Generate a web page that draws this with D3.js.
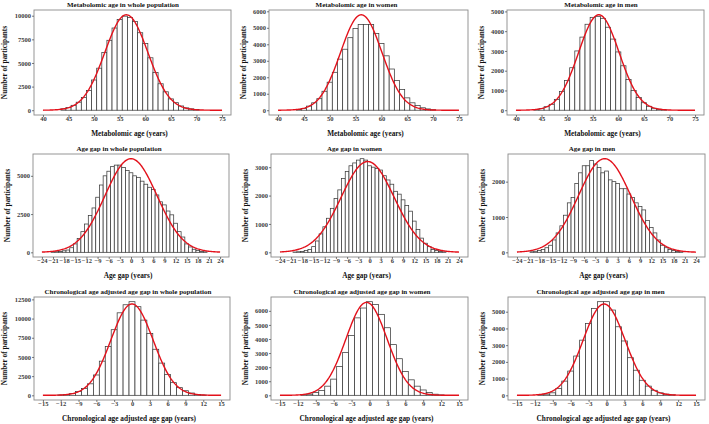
<!DOCTYPE html>
<html><head><meta charset="utf-8">
<script src="https://cdn.jsdelivr.net/npm/d3@7"></script>
<style>
body{margin:0;background:#fff}
svg{display:block}
text{font-family:"Liberation Serif","Times New Roman",serif}
</style>
</head><body>
<svg id="chart" width="709" height="424"></svg>
<script>
// ---------------- DATA ----------------
const panelTitles = [
  "Metabolomic age in whole population", "Metabolomic age in women", "Metabolomic age in men",
  "Age gap in whole population", "Age gap in women", "Age gap in men",
  "Chronological age adjusted age gap in whole population", "Chronological age adjusted age gap in women", "Chronological age adjusted age gap in men"
];
const xAxisTitles = ["Metabolomic age (years)", "Age gap (years)", "Chronological age adjusted age gap (years)"];
const yAxisTitle = "Number of participants";

// histogram bins (width 1 year), first bin centre + counts
const metabWholeStart = 44;
const metabWholeCounts = [150,280,520,850,1350,2100,3200,4450,6100,7400,8700,9600,9950,9800,9400,8200,7050,5550,4000,2800,1950,1200,800,450,250,150,70];
const metabWomenStart = 44;
const metabWomenCounts = [40,100,250,450,700,1150,1700,2300,3100,3700,4400,4950,5200,5200,5200,4650,4050,3300,2500,1800,1250,750,450,280,150,80,30];
const metabMenStart = 44;
const metabMenCounts = [20,80,180,300,550,950,1500,2150,3000,3700,4350,4700,4750,4650,4200,3600,2950,2250,1550,1000,650,380,200,100,50,20];

const gapWholeStart = -21;
const gapWholeCounts = [20,40,60,100,150,300,550,900,1350,1850,2400,2900,3600,4400,5000,5300,5600,5700,5700,5550,5350,5200,5000,4900,4650,4450,4250,4100,3750,3300,3100,2700,2450,1900,1350,1000,550,350,200,120,60,30];
const gapWomenStart = -20;
const gapWomenCounts = [10,20,30,60,100,200,400,650,900,1200,1550,1900,2200,2600,2850,3050,3150,3250,3300,3250,3050,3000,2950,2900,2700,2550,2400,2150,2050,1850,1650,1450,1100,800,500,320,200,100,60,30,15];
const gapMenStart = -20;
const gapMenCounts = [15,30,50,80,130,200,350,550,750,1050,1400,1550,1950,2250,2450,2450,2600,2500,2400,2250,2300,2050,2000,1950,1800,1800,1650,1550,1400,1300,1200,900,700,550,350,200,130,80,50,25,10];

const adjWholeStart = -12;
const adjWholeCounts = [50,100,250,500,900,1500,2650,4450,6350,8550,10750,11800,12200,11550,9800,8050,6000,4200,2700,1650,1000,600,300,120,40];
const adjWomenStart = -11;
const adjWomenCounts = [30,80,200,350,650,1150,2050,3050,4250,5500,6200,6650,6450,5750,4800,3600,2600,1700,1100,650,380,200,80,30];
const adjMenStart = -11;
const adjMenCounts = [30,70,150,400,850,1450,2350,3300,4300,5200,5600,5600,5100,4100,3250,2250,1500,900,550,300,150,70,30];

// fitted normal curves: mean, sd, peak height (count scale)
const curveMeans = [56.3, 56.1, 56.2, 0, -0.5, -0.5, 0, -0.5, -0.4];
const curveSDs   = [4.2, 4.0, 3.95, 7.0, 7.1, 7.0, 3.55, 3.45, 3.5];
const curvePeaks = [10100, 5790, 4830, 6120, 3200, 2650, 11900, 6600, 5460];

// x ranges and tick labels per row
const xRanges = [[40, 75], [-24, 24], [-15, 15]];
const xTicksRow = [
  [40,45,50,55,60,65,70,75],
  [-24,-21,-18,-15,-12,-9,-6,-3,0,3,6,9,12,15,18,21,24],
  [-15,-12,-9,-6,-3,0,3,6,9,12,15]
];
const yTicksPanel = [
  [0,2500,5000,7500,10000], [0,1000,2000,3000,4000,5000,6000], [0,1000,2000,3000,4000,5000],
  [0,2500,5000], [0,1000,2000,3000], [0,1000,2000],
  [0,2500,5000,7500,10000,12500], [0,1000,2000,3000,4000,5000,6000], [0,1000,2000,3000,4000,5000]
];

const binStarts = [metabWholeStart, metabWomenStart, metabMenStart, gapWholeStart, gapWomenStart, gapMenStart, adjWholeStart, adjWomenStart, adjMenStart];
const binCounts = [metabWholeCounts, metabWomenCounts, metabMenCounts, gapWholeCounts, gapWomenCounts, gapMenCounts, adjWholeCounts, adjWomenCounts, adjMenCounts];

// ---------------- LAYOUT ----------------
const rowTops = [10, 154, 297];
const rowBottoms = [115, 257, 400];
const colBoxes = [
  [[34,231],[269,468],[507,704]],
  [[33,229],[271,468],[508,705]],
  [[34,230],[271,468],[508,705]]
];
const titleCenters = [[123,356.5,601],[119,354.5,592],[128,362,600.5]];

const svg = d3.select("#chart");
svg.append("rect").attr("width",709).attr("height",424).attr("fill","#fff");

const tickFont = 6.5;
const fmt = d3.format("d");

for (let i = 0; i < 9; i++) {
  const row = Math.floor(i / 3), col = i % 3;
  const left = colBoxes[row][col][0], right = colBoxes[row][col][1];
  const top = rowTops[row], bottom = rowBottoms[row];
  const [xmin, xmax] = xRanges[row];
  const xr = xmax - xmin;
  const x = d3.scaleLinear().domain([xmin - 0.05*xr, xmax + 0.05*xr]).range([left, right]);
  const bins = binCounts[i].map((c, k) => ({c: binStarts[i] + k, n: c}));
  const M = Math.max(d3.max(binCounts[i]), curvePeaks[i]);
  const y = d3.scaleLinear().domain([-0.05*M, 1.05*M]).range([bottom, top]);
  const g = svg.append("g");

  // bars
  g.selectAll("rect.bar").data(bins).join("rect")
    .attr("class","bar")
    .attr("x", d => x(d.c - 0.5))
    .attr("width", d => x(d.c + 0.5) - x(d.c - 0.5))
    .attr("y", d => y(d.n))
    .attr("height", d => y(0) - y(d.n))
    .attr("fill", "#fff")
    .attr("stroke", "#3a3a3a")
    .attr("stroke-width", 0.75);

  // fitted normal curve
  const mu = curveMeans[i], sd = curveSDs[i], pk = curvePeaks[i];
  const xs = d3.range(201).map(k => xmin + k * xr / 200);
  const line = d3.line().x(v => x(v)).y(v => y(pk * Math.exp(-((v - mu) ** 2) / (2 * sd * sd))));
  g.append("path").datum(xs).attr("d", line)
    .attr("fill","none").attr("stroke","#e3111b").attr("stroke-width",1.4);

  // panel border
  g.append("rect").attr("x", left).attr("y", top).attr("width", right-left).attr("height", bottom-top)
    .attr("fill","none").attr("stroke","#8a8a8a").attr("stroke-width",0.9);

  // axes
  const xa = g.append("g").attr("transform", `translate(0,${bottom})`)
    .call(d3.axisBottom(x).tickValues(xTicksRow[row]).tickFormat(fmt).tickSize(2).tickPadding(0));
  const ya = g.append("g").attr("transform", `translate(${left},0)`)
    .call(d3.axisLeft(y).tickValues(yTicksPanel[i]).tickFormat(fmt).tickSize(2).tickPadding(1));
  [xa, ya].forEach(a => {
    a.select(".domain").remove();
    a.selectAll(".tick line").attr("stroke","#444").attr("stroke-width",0.7);
    a.selectAll(".tick text").attr("font-family","Liberation Serif").attr("font-size",tickFont)
      .attr("font-weight","bold").attr("fill","#3c3c3c");
  });
  xa.selectAll(".tick text").attr("y", 1.6);

  // y tick label width for y-title placement
  let maxW = 0;
  ya.selectAll(".tick text").each(function(){ maxW = Math.max(maxW, this.getComputedTextLength()); });

  // titles
  g.append("text").attr("x", titleCenters[row][col]).attr("y", top - 3.5)
    .attr("text-anchor","middle").attr("font-size",7).attr("font-weight","bold").attr("fill","#111")
    .text(panelTitles[i]);
  g.append("text").attr("x", (left+right)/2 - 3).attr("y", bottom + 20.5)
    .attr("text-anchor","middle").attr("font-size",7.3).attr("font-weight","bold").attr("fill","#111")
    .text(xAxisTitles[row]);
  const yx = left - 3 - maxW - 7.5;
  g.append("text").attr("transform", `translate(${yx},${(top+bottom)/2}) rotate(-90)`)
    .attr("text-anchor","middle").attr("font-size",7.3).attr("font-weight","bold").attr("fill","#111")
    .text(yAxisTitle);
}
</script>
</body></html>
